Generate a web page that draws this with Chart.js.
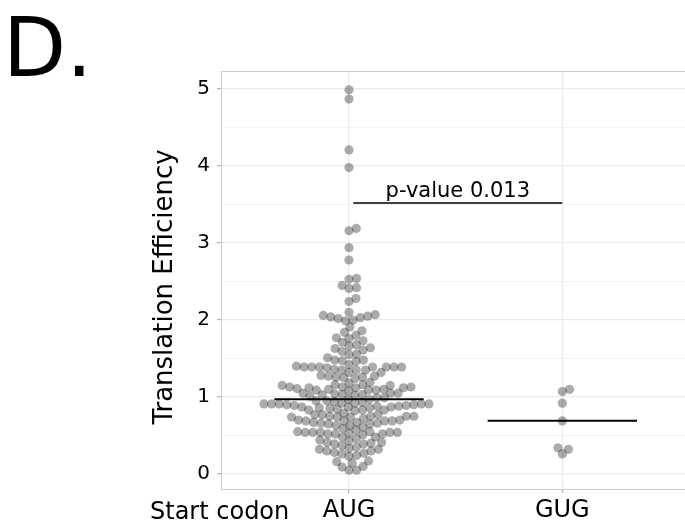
<!DOCTYPE html>
<html>
<head>
<meta charset="utf-8">
<script src="https://cdn.jsdelivr.net/npm/chart.js@4.4.0/dist/chart.umd.min.js"></script>
<style>
  html, body { margin: 0; padding: 0; background: #fff; }
  #wrap { width: 685px; height: 525px; }
</style>
</head>
<body>
<div id="wrap"><canvas id="te-chart" width="685" height="525"></canvas></div>
<script>
// Translation efficiency per start codon
const codons = ['AUG', 'GUG'];

const augValues = [
    4.99, 4.87, 4.21, 3.98, 3.19, 3.16, 2.94, 2.78,
    2.54, 2.53, 2.41, 2.45, 2.42, 2.24, 2.28,
    2.07, 2.03, 2.00, 2.05, 1.99, 2.10, 2.04, 2.02, 2.06,
    1.91, 1.84, 1.86, 1.80, 1.77, 1.73, 1.71, 1.76,
    1.68, 1.61, 1.56, 1.64, 1.63, 1.59, 1.66, 1.55,
    1.51, 1.46, 1.47, 1.48, 1.48,
    1.40, 1.39, 1.39, 1.39, 1.39, 1.42, 1.39,
    1.35, 1.39, 1.38, 1.35, 1.35, 1.32, 1.39, 1.36, 1.32,
    1.25, 1.27, 1.27, 1.26, 1.26, 1.28, 1.24,
    1.16, 1.15, 1.19, 1.15, 1.18, 1.16,
    1.13, 1.12, 1.10, 1.13, 1.10, 1.05, 1.09, 1.13, 1.09, 1.09, 1.12, 1.11, 1.12, 1.08,
    1.01, 1.05, 0.99, 1.03, 0.97, 1.03, 1.03, 1.05, 1.02, 1.04, 0.97, 0.99,
    0.90, 0.93, 0.92, 0.95, 0.90, 0.91, 0.89, 0.91, 0.94, 0.91, 0.91, 0.95, 0.92, 0.91,
    0.84, 0.83, 0.88, 0.83, 0.85, 0.87, 0.86, 0.82, 0.86, 0.88, 0.87, 0.87, 0.83, 0.89,
    0.75, 0.79, 0.77, 0.75, 0.74, 0.77, 0.75, 0.74, 0.77, 0.74, 0.72, 0.75,
    0.65, 0.69, 0.66, 0.65, 0.69, 0.67, 0.70, 0.69, 0.67, 0.69, 0.63, 0.66, 0.70, 0.63,
    0.53, 0.55, 0.54, 0.54, 0.61, 0.54, 0.52, 0.54, 0.57, 0.54, 0.51, 0.52, 0.59, 0.55, 0.52,
    0.41, 0.37, 0.48, 0.43, 0.40, 0.46, 0.39, 0.41, 0.44, 0.48, 0.39,
    0.32, 0.23, 0.30, 0.35, 0.26, 0.30, 0.33, 0.24, 0.28, 0.27, 0.17, 0.32,
    0.09, 0.05, 0.16, 0.05, 0.14, 0.10
];
const gugValues = [1.10, 1.07, 0.92, 0.69, 0.34, 0.32, 0.26];

const yTicks = [0, 1, 2, 3, 4, 5];
const pValueLabel = 'p-value 0.013';
const bracketLevel = 3.52;
const bracketFrom = 0.02;
const bracketTo = 1.0;

const medianHalfWidth = 0.35;
const swarmSpacing = 7.6;
const FONT = '"DejaVu Sans", Verdana, sans-serif';

function median(arr) {
    const s = [...arr].sort((a, b) => a - b);
    const m = Math.floor(s.length / 2);
    return s.length % 2 ? s[m] : (s[m - 1] + s[m]) / 2;
}

// grid runs at every half unit, labels only on the whole ones
const gridSteps = [];
yTicks.forEach(t => {
    gridSteps.push(t);
    if (t < yTicks[yTicks.length - 1]) gridSteps.push(t + 0.5);
});

function medianLine(values, center) {
    const m = median(values);
    return [{ x: center - medianHalfWidth, y: m }, { x: center + medianHalfWidth, y: m }];
}

// beeswarm layout in pixel space, lowest values placed first
function swarmOffsets(values, yScale, d) {
    const order = values.map((v, i) => i).sort((a, b) => values[a] - values[b]);
    const placed = [];
    const offsets = new Array(values.length).fill(0);
    order.forEach(i => {
        const py = yScale.getPixelForValue(values[i]);
        const near = placed.filter(p => Math.abs(p.y - py) < d);
        const cands = [0];
        near.forEach(p => {
            const dx = Math.sqrt(d * d - (p.y - py) ** 2);
            cands.push(p.x + dx, p.x - dx);
        });
        cands.sort((a, b) => Math.abs(a) - Math.abs(b));
        const x = cands.find(c => near.every(p => (c - p.x) ** 2 + (p.y - py) ** 2 >= d * d - 0.01));
        placed.push({ x: x, y: py });
        offsets[i] = x;
    });
    return offsets;
}

const decorations = {
    id: 'decorations',
    afterDraw(chart) {
        const { ctx, chartArea, scales } = chart;
        ctx.save();
        // panel top edge
        ctx.strokeStyle = '#cccccc';
        ctx.lineWidth = 1;
        ctx.beginPath();
        ctx.moveTo(chartArea.left, chartArea.top + 0.5);
        ctx.lineTo(chartArea.right, chartArea.top + 0.5);
        ctx.stroke();

        ctx.fillStyle = '#000';
        ctx.textBaseline = 'alphabetic';

        ctx.font = '82px ' + FONT;
        ctx.textAlign = 'left';
        ctx.fillText('D.', 3, 76);

        ctx.font = '24px ' + FONT;
        ctx.fillText('Start codon', 150, 519);

        ctx.font = '21px ' + FONT;
        ctx.textAlign = 'center';
        ctx.fillText(pValueLabel, scales.x.getPixelForValue((bracketFrom + bracketTo) / 2),
            scales.y.getPixelForValue(bracketLevel) - 6);

        ctx.translate(165, 287);
        ctx.rotate(-Math.PI / 2);
        ctx.font = '26px ' + FONT;
        ctx.textBaseline = 'middle';
        ctx.fillText('Translation Efficiency', 0, 0);
        ctx.restore();
    }
};

const pointStyle = {
    type: 'scatter',
    pointRadius: 4.6,
    pointHoverRadius: 4.6,
    backgroundColor: 'rgba(0, 0, 0, 0.33)',
    borderWidth: 0,
    order: 2
};
const blackLine = {
    type: 'line',
    borderColor: '#000',
    pointRadius: 0,
    fill: false,
    order: 0
};

const ctx = document.getElementById('te-chart').getContext('2d');
const chart = new Chart(ctx, {
    type: 'scatter',
    data: {
        datasets: [
            { ...blackLine, label: 'AUG median', data: medianLine(augValues, 0), borderWidth: 2 },
            { ...blackLine, label: 'GUG median', data: medianLine(gugValues, 1), borderWidth: 2 },
            { ...blackLine, label: 'bracket', data: [{ x: bracketFrom, y: bracketLevel }, { x: bracketTo, y: bracketLevel }], borderWidth: 1.5 },
            { ...pointStyle, label: 'AUG', data: augValues.map(v => ({ x: 0, y: v })) },
            { ...pointStyle, label: 'GUG', data: gugValues.map(v => ({ x: 1, y: v })) }
        ]
    },
    options: {
        responsive: false,
        animation: false,
        devicePixelRatio: 1,
        layout: { autoPadding: false, padding: { top: 71, right: 0, left: 0, bottom: 0 } },
        plugins: {
            legend: { display: false },
            tooltip: { enabled: false }
        },
        scales: {
            x: {
                type: 'linear',
                min: -0.6,
                max: 1.575,
                afterFit: s => {
                    s.height = 36;
                    s.paddingLeft = 0;
                    s.paddingRight = 0;
                },
                afterBuildTicks: s => { s.ticks = codons.map((c, i) => ({ value: i })); },
                ticks: {
                    callback: v => codons[v],
                    color: '#000',
                    font: { family: FONT, size: 24 },
                    padding: 3,
                    maxRotation: 0
                },
                grid: {
                    color: '#ebebeb',
                    lineWidth: 1.2,
                    tickColor: '#b3b3b3',
                    tickLength: 4
                },
                border: { display: true, color: '#cccccc', width: 1 }
            },
            y: {
                min: -0.195,
                max: 5.235,
                afterFit: s => { s.width = 221; },
                afterBuildTicks: s => { s.ticks = gridSteps.map(v => ({ value: v })); },
                ticks: {
                    callback: v => Number.isInteger(v) ? String(v) : '',
                    color: '#000',
                    font: { family: FONT, size: 20 },
                    padding: 7
                },
                grid: {
                    color: c => Number.isInteger(c.tick.value) ? '#ebebeb' : '#f3f3f3',
                    lineWidth: c => Number.isInteger(c.tick.value) ? 1.2 : 1,
                    tickColor: c => Number.isInteger(c.tick.value) ? '#b3b3b3' : 'rgba(0,0,0,0)',
                    tickLength: 4
                },
                border: { display: true, color: '#cccccc', width: 1 }
            }
        }
    },
    plugins: [decorations]
});

// spread the points sideways once the scales are known
[[3, augValues, 0], [4, gugValues, 1]].forEach(([idx, values, center]) => {
    const xs = chart.scales.x;
    const offs = swarmOffsets(values, chart.scales.y, swarmSpacing);
    const cpx = xs.getPixelForValue(center);
    chart.data.datasets[idx].data = values.map((v, i) => ({ x: xs.getValueForPixel(cpx + offs[i]), y: v }));
});
chart.update('none');
</script>
</body>
</html>
